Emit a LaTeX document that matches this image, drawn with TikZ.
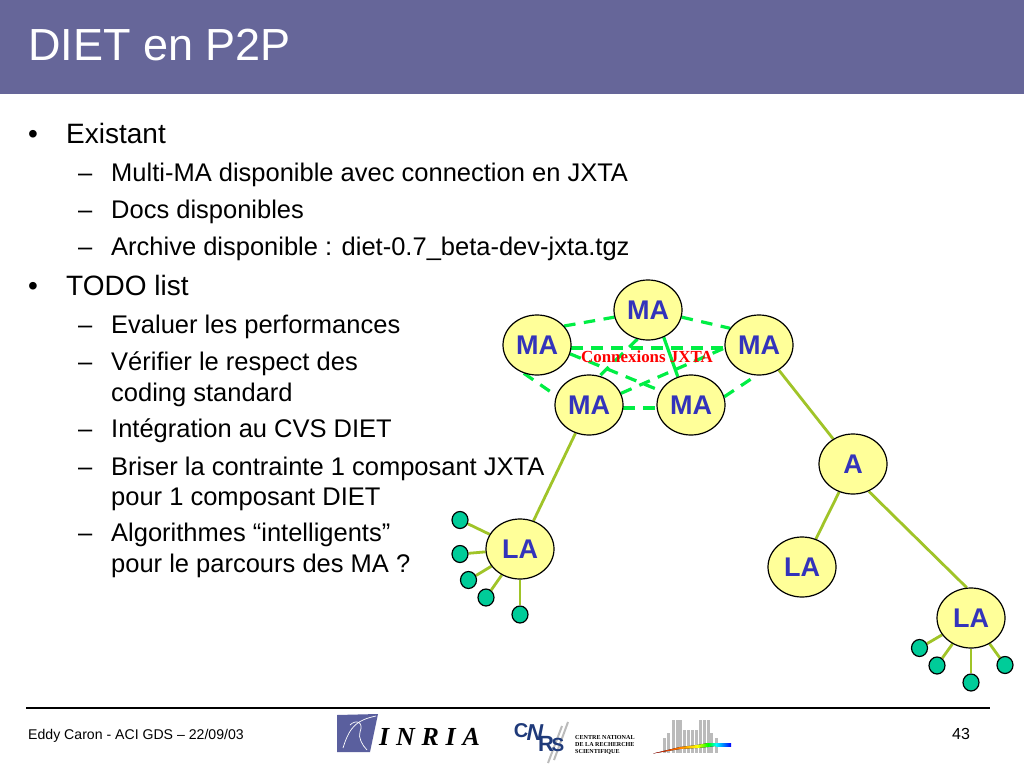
\documentclass[tikz,border=0pt]{standalone}
\usepackage{fontspec}
\setmainfont{Liberation Sans}
\newfontfamily\serifinria[LetterSpace=26]{Liberation Serif}
\newfontfamily\seriflogo{Liberation Serif}
\usetikzlibrary{calc,shapes.geometric,backgrounds}
\definecolor{barcol}{HTML}{666699}
\definecolor{nodefill}{HTML}{FFFF99}
\definecolor{nodetext}{HTML}{3333BB}
\definecolor{leafcol}{HTML}{00CC99}
\definecolor{olive}{HTML}{A0C428}
\definecolor{jxta}{HTML}{00EE44}
\definecolor{logoblue}{HTML}{5A5F9E}
\definecolor{cnrsblue}{HTML}{1F3A7A}
\definecolor{bargrey}{HTML}{BBBBBB}
\tikzset{
  x=1pt,y=-1pt,
  agent/.style={ellipse,draw=black,line width=1.2pt,fill=nodefill,minimum width=68pt,minimum height=60pt,inner sep=0pt,text=nodetext,font=\fontsize{27}{27}\selectfont\bfseries},
  leaf/.style={ellipse,draw=black,line width=1.2pt,fill=leafcol,minimum width=16pt,minimum height=17pt,inner sep=0pt},
  link/.style={draw=olive,line width=2.8pt},
  peer/.style={draw=jxta,line width=3.2pt,dash pattern=on 11.5pt off 8.5pt},
  solidpeer/.style={draw=jxta,line width=3.2pt},
  lvlone/.style={anchor=base west,inner sep=0pt,font=\fontsize{28}{28}\selectfont},
  lvltwo/.style={anchor=base west,inner sep=0pt,font=\fontsize{25.5}{25.5}\selectfont},
  foot/.style={anchor=base west,inner sep=0pt,font=\fontsize{14.1}{14.1}\selectfont},
  cnrsletter/.style={inner sep=0pt,text=cnrsblue},
  cnrsline/.style={anchor=base west,inner sep=0pt,font=\fontsize{6.1}{6.1}\seriflogo\bfseries},
  histobar/.style={fill=bargrey,draw=none},
}
\begin{document}
\begin{tikzpicture}
\useasboundingbox (0,0) rectangle (1024,768);
\node[anchor=base west,inner sep=0pt,text=white,font=\fontsize{45}{45}\selectfont] (title) at (28,60) {DIET en P2P};
% text
\node[lvlone] (b1) at (28,143) {•};
\node[lvlone] (t1) at (66,143) {Existant};
\node[lvltwo] (d2) at (78,181) {–};
\node[lvltwo] (t2) at (111,181) {Multi-MA disponible avec connection en JXTA};
\node[lvltwo] (d3) at (78,218) {–};
\node[lvltwo] (t3) at (111,218) {Docs disponibles};
\node[lvltwo] (d4) at (78,255) {–};
\node[lvltwo] (t4) at (111,255) {Archive disponible : diet-0.7\_beta-dev-jxta.tgz};
\node[lvlone] (b5) at (28,295) {•};
\node[lvlone] (t5) at (66,295) {TODO list};
\node[lvltwo] (d6) at (78,333) {–};
\node[lvltwo] (t6) at (111,333) {Evaluer les performances};
\node[lvltwo] (d7) at (78,370) {–};
\node[lvltwo] (t7) at (111,370) {Vérifier le respect des};
\node[lvltwo] (t7b) at (111,401) {coding standard};
\node[lvltwo] (d8) at (78,437) {–};
\node[lvltwo] (t8) at (111,437) {Intégration au CVS DIET};
\node[lvltwo] (d9) at (78,475) {–};
\node[lvltwo] (t9) at (111,475) {Briser la contrainte 1 composant JXTA};
\node[lvltwo] (t9b) at (111,505) {pour 1 composant DIET};
\node[lvltwo] (d10) at (78,541) {–};
\node[lvltwo] (t10) at (111,541) {Algorithmes “intelligents”};
\node[lvltwo] (t10b) at (111,572) {pour le parcours des MA ?};
% agents
\node[agent] (top) at (648,310) {MA};
\node[agent] (left) at (537,345) {MA};
\node[agent] (right) at (759,345) {MA};
\node[agent] (bl) at (589,405) {MA};
\node[agent] (br) at (691,405) {MA};
\node[agent] (a) at (853,464) {A};
\node[agent] (la1) at (520,549) {LA};
\node[agent] (la2) at (802,567) {LA};
\node[agent] (la3) at (971,618) {LA};
\node[leaf] (l1) at (460,520) {};
\node[leaf] (l2) at (460,554) {};
\node[leaf] (l3) at (468.5,580) {};
\node[leaf] (l4) at (486,597.5) {};
\node[leaf] (l5) at (520,614.5) {};
\node[leaf] (r1) at (919.5,648) {};
\node[leaf] (r2) at (937,665.5) {};
\node[leaf] (r3) at (971,682.5) {};
\node[leaf] (r4) at (1005,665) {};
\begin{scope}[on background layer]
\fill[white] (0,0) rectangle (1024,768);
\fill[barcol] (0,0) rectangle (1024,94);
% peer links
\draw[peer] (left.35) -- (top.192);
\draw[peer] (top.348) -- (right.150);
\draw[peer] (left.245) -- (bl.164);
\draw[peer] (bl.355) -- (br.185);
\draw[peer] (br.14) -- (right.265);
\draw[peer] (left.355) -- (right.185);
\draw[peer] (left.345) -- (br.155);
\draw[peer] (bl.20) -- (right.185);
\draw[peer] (top.250) -- (bl.70);
\draw[solidpeer] (top.300) -- (br.115);
% tree links
\draw[link] (right) -- (a);
\draw[link] (a.300) -- (la3.98);
\draw[link] (a) -- (la2);
\draw[link] (bl) -- (la1);
\foreach \n in {l1,l2,l3,l4,l5} \draw[link] (la1) -- (\n);
\foreach \n in {r1,r2,r3,r4} \draw[link] (la3) -- (\n);
\end{scope}
\node[inner sep=0pt,text=red,font=\fontsize{16.9}{16.9}\seriflogo\bfseries] (conn) at (647,357) {Connexions JXTA};
% footer
\draw[black,line width=2pt] (26,708) -- (990,708);
\node[foot] (f1) at (28,739) {Eddy Caron - ACI GDS – 22/09/03};
\node[anchor=base west,inner sep=0pt,font=\fontsize{16}{16}\selectfont] (f2) at (952,739) {43};
% INRIA logo
\fill[logoblue] (337,715) -- (378,714) -- (370,752) -- (337,752) -- cycle;
\draw[white,line width=.7pt] (343,748) .. controls (350,725) and (358,720) .. (376,716);
\draw[white,line width=.7pt] (350,725) .. controls (356,719) and (364,722) .. (360,732) .. controls (358,737) and (362,745) .. (367,750);
\node[anchor=base west,inner sep=0pt,font=\fontsize{26}{26}\serifinria\bfseries\itshape] (inria) at (379,745) {INRIA};
% CNRS logo
\draw[bargrey,line width=2pt] (568,722) -- (554,760);
\draw[bargrey,line width=2pt] (562,726) -- (548,763);
\node[cnrsletter,font=\fontsize{20}{20}\selectfont\bfseries] (cn1) at (521,731) {C};
\node[cnrsletter,font=\fontsize{23}{23}\selectfont\bfseries\itshape] (cn2) at (535,733) {N};
\node[cnrsletter,font=\fontsize{22}{22}\selectfont\bfseries] (cn3) at (546,744) {R};
\node[cnrsletter,font=\fontsize{19}{19}\selectfont\bfseries] (cn4) at (558,745) {S};
\node[cnrsline] (c1) at (575,739) {CENTRE NATIONAL};
\node[cnrsline] (c2) at (575,746) {DE LA RECHERCHE};
\node[cnrsline] (c3) at (575,753) {SCIENTIFIQUE};
% histogram logo
\foreach \x/\t in {664/738,668/733,673/720,677/720,680/720,684/730,688/730,692/730,696/730,700/720,704/720,708/720,711/733,716/738}
  \fill[histobar] (\x-1.5,\t) rectangle (\x+1.5,753);
\fill[left color=red!80!black,right color=orange] (653,753.5) -- (680,747) -- (680,749) -- cycle;
\fill[left color=orange,right color=yellow] (680,747) -- (697,745) -- (697,748) -- (680,749) -- cycle;
\fill[left color=yellow,right color=green] (697,745) -- (708,743) -- (708,747) -- (697,748) -- cycle;
\fill[left color=green,right color=cyan] (708,743) -- (716,743) -- (716,746) -- (708,747) -- cycle;
\fill[left color=cyan,right color=blue] (716,743) -- (731,743) -- (731,746) -- (716,746) -- cycle;
\end{tikzpicture}
\end{document}
